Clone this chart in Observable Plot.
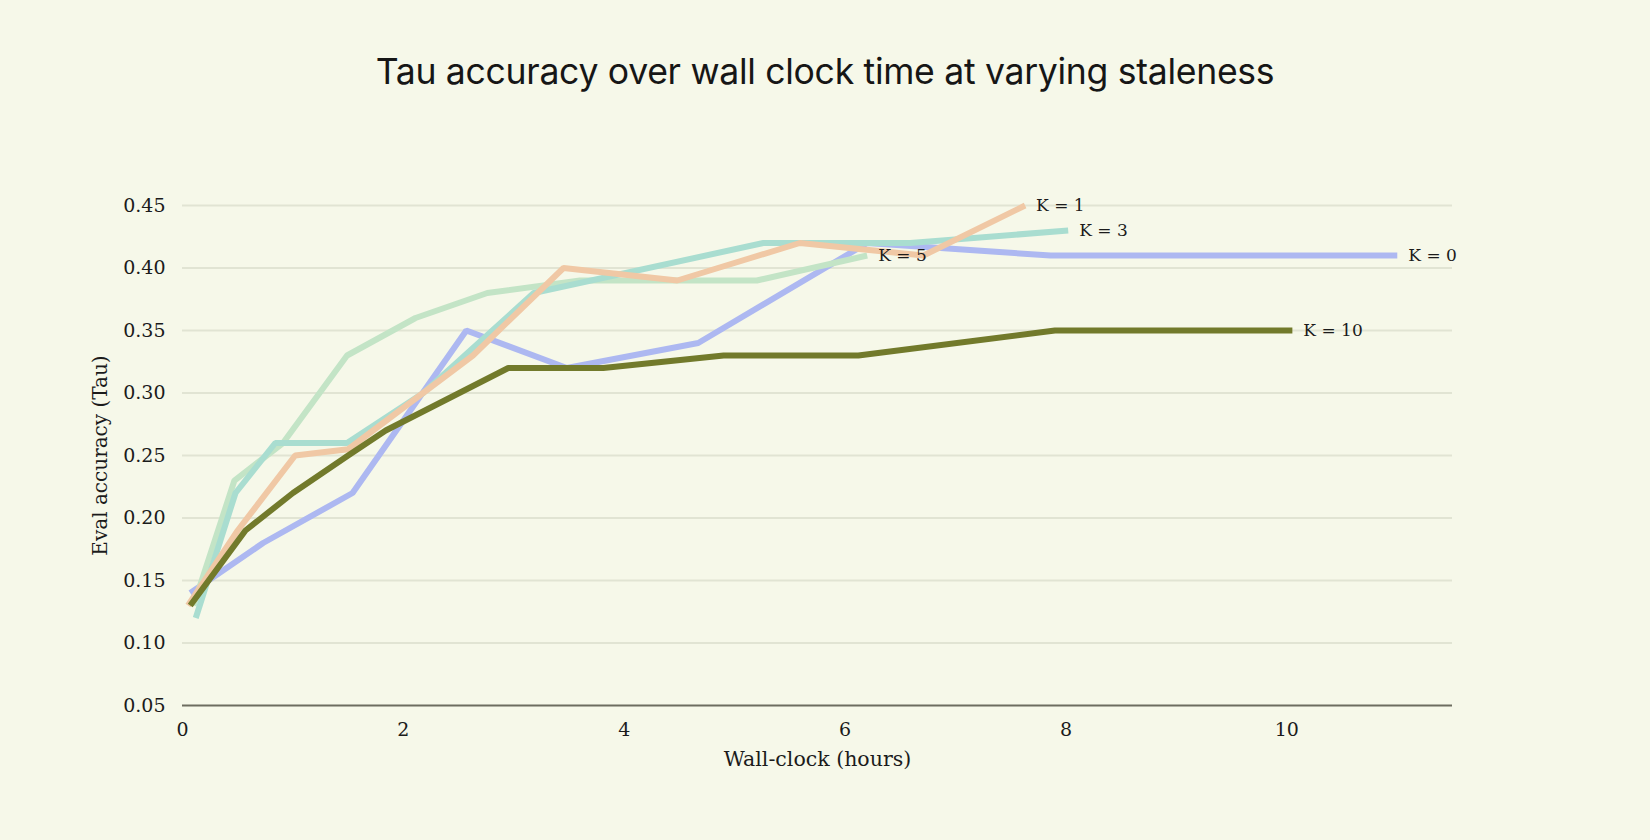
<!DOCTYPE html>
<html>
<head>
<meta charset="utf-8">
<script src="https://cdn.jsdelivr.net/npm/d3@7"></script>
<script src="https://cdn.jsdelivr.net/npm/@observablehq/plot@0.6"></script>
<style>
  html, body { margin: 0; padding: 0; background: #f6f8e9; }
  #wrap { width: 1650px; height: 840px; background: #f6f8e9; }
  #title { height: 120px; display: flex; align-items: center; justify-content: center;
    font-family: Inter, "Noto Sans", sans-serif; font-size: 35.6px; color: #161616;
    letter-spacing: -0.3px; padding-top: 22px; box-sizing: border-box; }
  #chart svg { display: block; }
</style>
</head>
<body>
<div id="wrap">
  <div id="title">Tau accuracy over wall clock time at varying staleness</div>
  <div id="chart"></div>
</div>
<script>
// ---- data ----
const seriesLabels = ["K = 0", "K = 1", "K = 3", "K = 5", "K = 10"];

const hoursK0 = [0.07, 0.73, 1.54, 2.57, 3.48, 4.67, 6.2, 7.86, 11.0];
const accK0   = [0.14, 0.18, 0.22, 0.35, 0.32, 0.34, 0.42, 0.41, 0.41];

const hoursK1 = [0.05, 0.5, 1.02, 1.5, 2.63, 3.45, 4.48, 5.59, 6.71, 7.63];
const accK1   = [0.13, 0.19, 0.25, 0.255, 0.33, 0.40, 0.39, 0.42, 0.41, 0.45];

const hoursK3 = [0.12, 0.48, 0.84, 1.49, 2.18, 3.18, 5.26, 6.59, 8.02];
const accK3   = [0.12, 0.22, 0.26, 0.26, 0.30, 0.38, 0.42, 0.42, 0.43];

const hoursK5 = [0.1, 0.47, 0.91, 1.49, 2.11, 2.76, 3.6, 5.2, 6.2];
const accK5   = [0.13, 0.23, 0.26, 0.33, 0.36, 0.38, 0.39, 0.39, 0.41];

const hoursK10 = [0.07, 0.57, 1.0, 1.5, 1.84, 2.95, 3.81, 4.9, 6.12, 7.9, 10.05];
const accK10   = [0.13, 0.19, 0.22, 0.25, 0.27, 0.32, 0.32, 0.33, 0.33, 0.35, 0.35];

const xTicks = [0, 2, 4, 6, 8, 10];
const yTicks = [0.05, 0.10, 0.15, 0.20, 0.25, 0.30, 0.35, 0.40, 0.45];

const xLabel = "Wall-clock (hours)";
const yLabel = "Eval accuracy (Tau)";

// ---- build tables ----
const colors = {
  "K = 0": "#adb8f1",
  "K = 1": "#f0c8a5",
  "K = 3": "#a9ddd0",
  "K = 5": "#c3e4c6",
  "K = 10": "#727a2b"
};
const hoursBy = {"K = 0": hoursK0, "K = 1": hoursK1, "K = 3": hoursK3, "K = 5": hoursK5, "K = 10": hoursK10};
const accBy = {"K = 0": accK0, "K = 1": accK1, "K = 3": accK3, "K = 5": accK5, "K = 10": accK10};

function rows(k) { return hoursBy[k].map((h, i) => ({series: k, hours: h, acc: accBy[k][i]})); }
const drawOrder = ["K = 0", "K = 5", "K = 3", "K = 1", "K = 10"];
const ends = seriesLabels.map(k => { const r = rows(k); return r[r.length - 1]; });

const serif = "'DejaVu Serif', 'Liberation Serif', serif";

const lineMarks = drawOrder.map(k => Plot.line(rows(k), {
  x: "hours", y: "acc", stroke: colors[k], strokeWidth: 6,
  strokeLinecap: "butt", strokeLinejoin: "miter"
}));

const chart = Plot.plot({
  width: 1650,
  height: 720,
  marginTop: 85,
  marginBottom: 135,
  marginLeft: 182,
  marginRight: 198,
  style: {background: "#f6f8e9", fontFamily: serif, fontSize: "19px", color: "#1b1b1b"},
  x: {domain: [0, 11.5], label: null},
  y: {domain: [0.05, 0.45], label: null},
  marks: [
    Plot.gridY(yTicks.filter(v => v > 0.06), {stroke: "#e1e4d3", strokeOpacity: 1, strokeWidth: 2}),
    Plot.ruleY([0.05], {stroke: "#6d6d60", strokeWidth: 2}),
    Plot.axisX(xTicks, {tickSize: 0, tickPadding: 17, fontSize: 19, fill: "#1b1b1b", label: null}),
    Plot.axisY(yTicks, {tickSize: 0, tickPadding: 17, fontSize: 19, fill: "#1b1b1b", tickFormat: d3.format(".2f"), label: null}),
    ...lineMarks,
    Plot.text(ends, {x: "hours", y: "acc", text: "series", dx: 11, textAnchor: "start",
      fontSize: 17, fill: "#1b1b1b", fontFamily: serif}),
    Plot.text([xLabel], {frameAnchor: "bottom", dy: 54, lineAnchor: "middle", text: d => d, fontSize: 20.5, fill: "#1b1b1b"}),
    Plot.text([yLabel], {frameAnchor: "left", dx: -82, rotate: -90, textAnchor: "middle", lineAnchor: "middle",
      text: d => d, fontSize: 20, fill: "#1b1b1b"})
  ]
});
document.getElementById("chart").appendChild(chart);
</script>
</body>
</html>
